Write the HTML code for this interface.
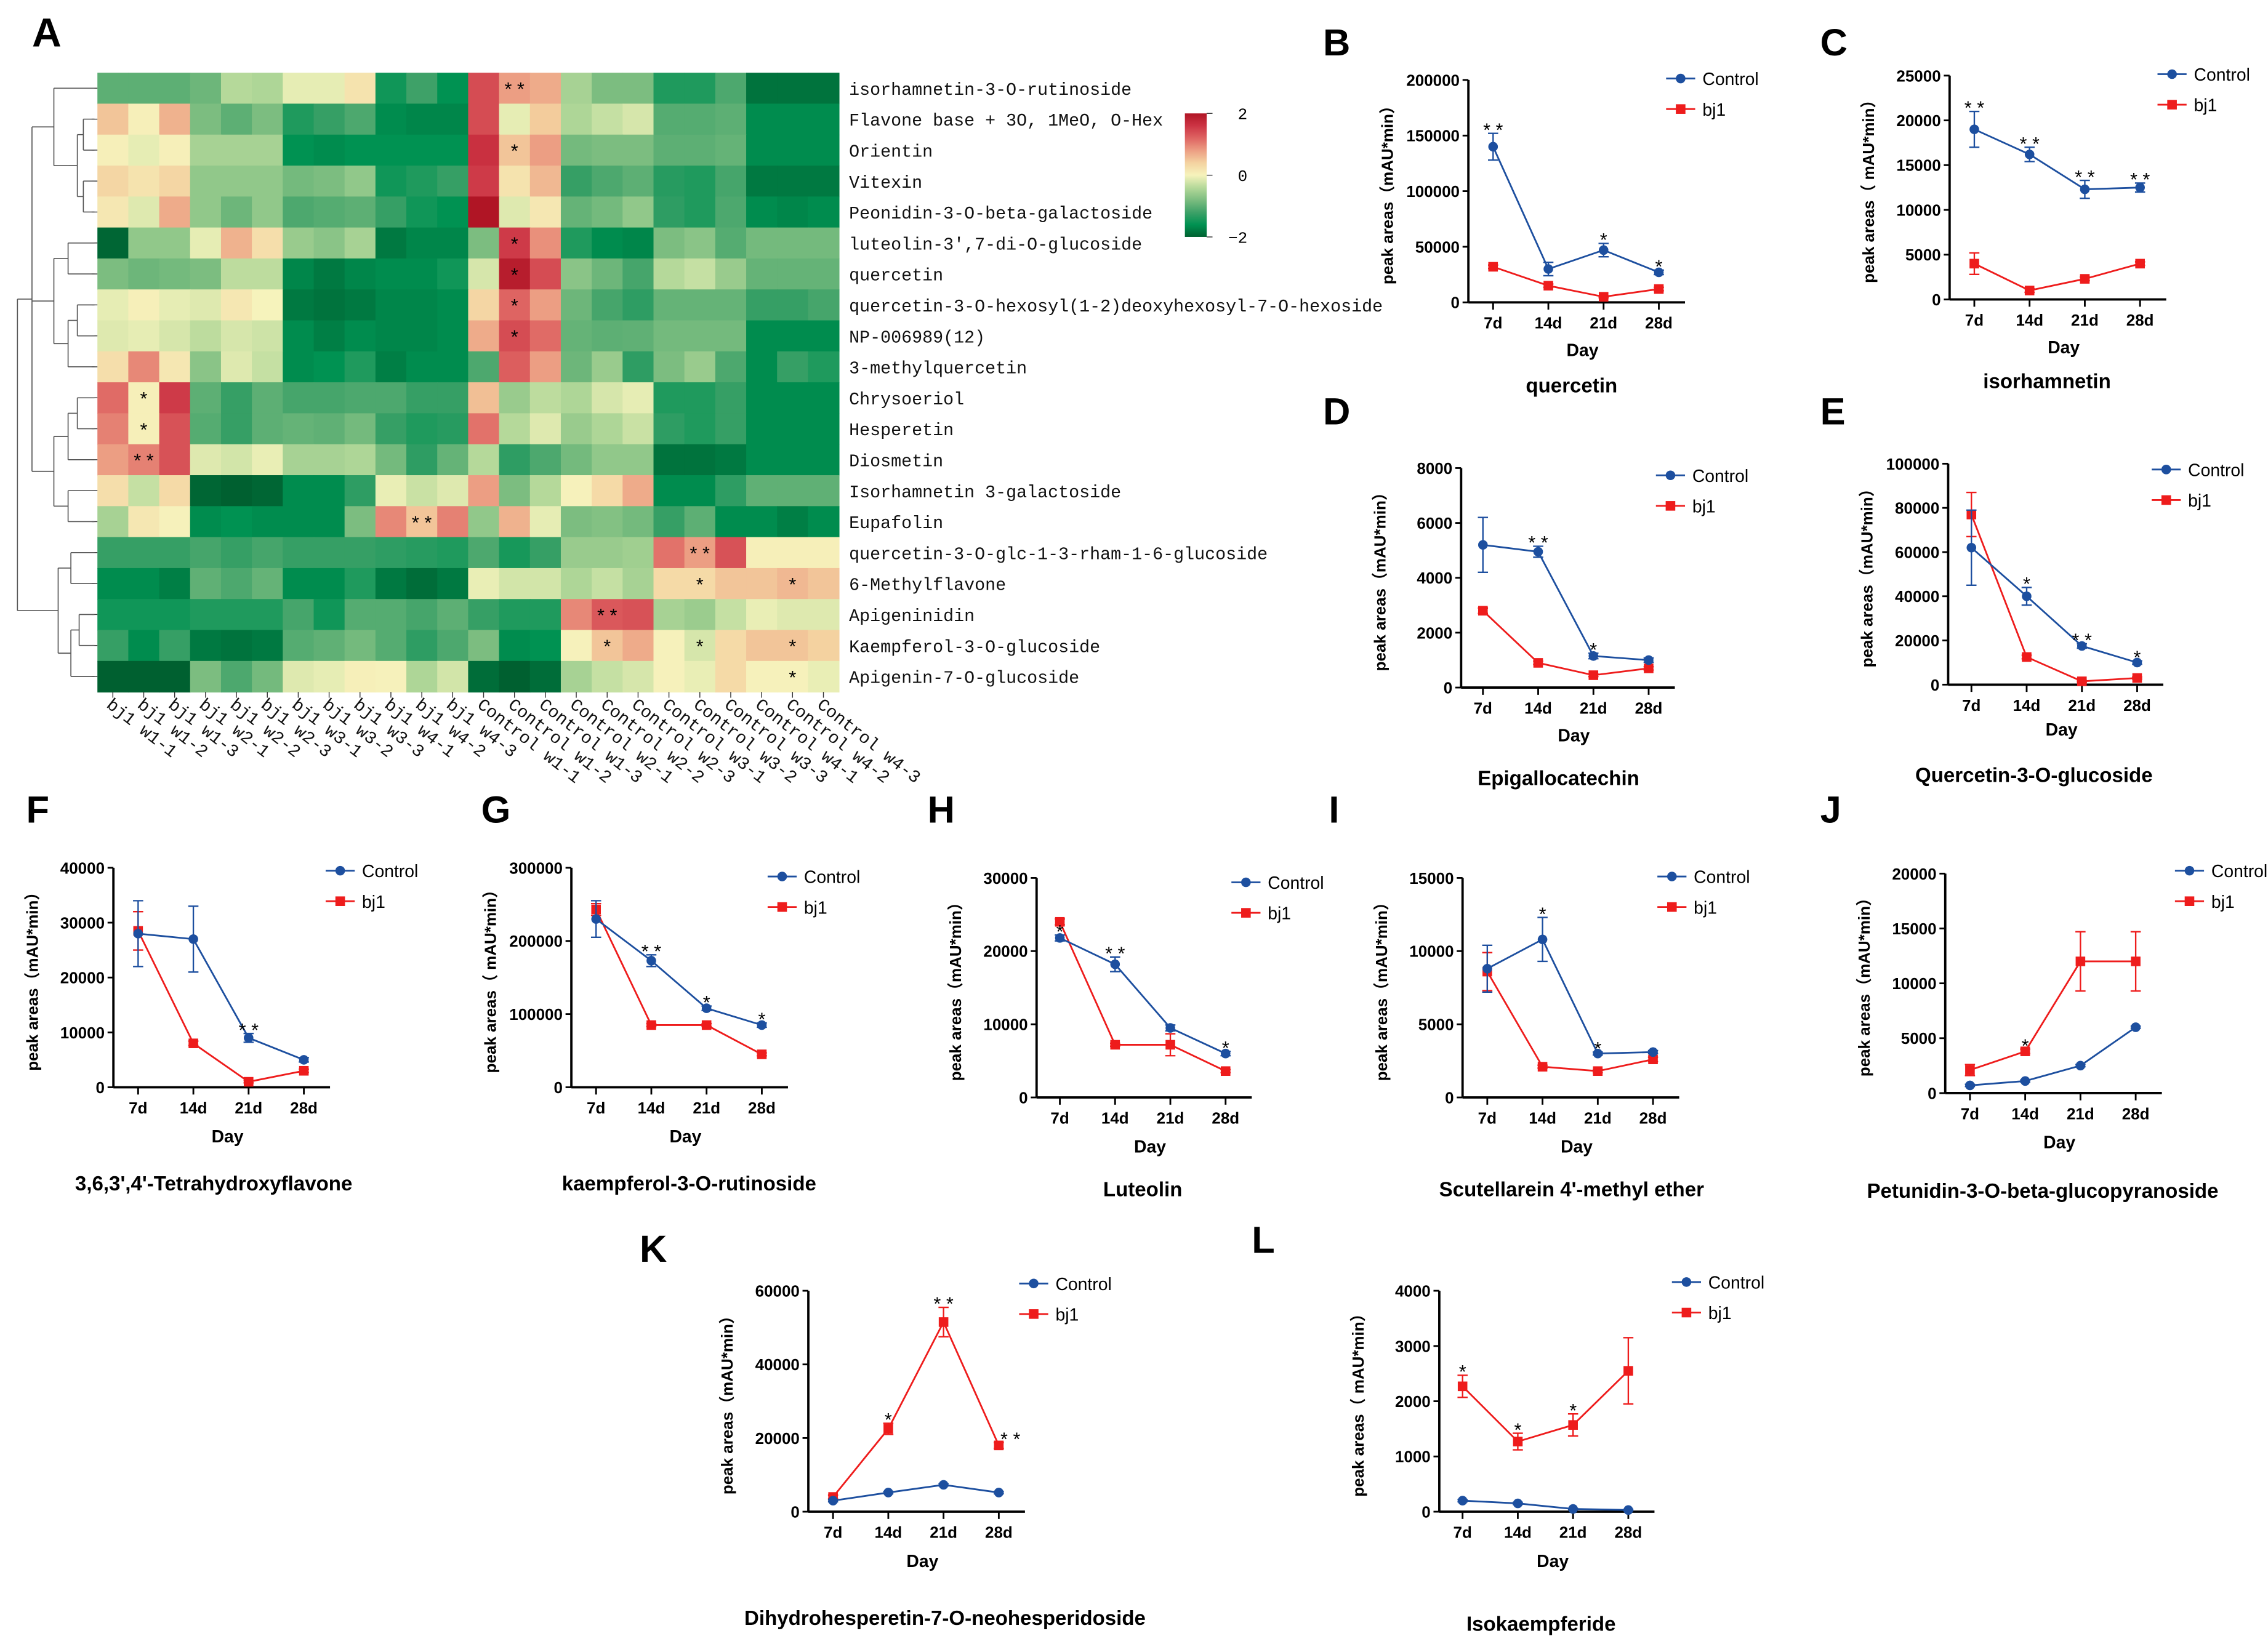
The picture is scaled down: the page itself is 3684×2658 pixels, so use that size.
<!DOCTYPE html>
<html><head><meta charset="utf-8">
<style>
html,body{margin:0;padding:0;background:#fff;}
svg{display:block;}
text{font-family:"Liberation Sans","Noto Sans CJK SC",sans-serif;}
.mono{font-family:"Liberation Mono","DejaVu Sans Mono",monospace;}
</style></head>
<body>
<svg id="fig" xmlns="http://www.w3.org/2000/svg" width="3684" height="2658" viewBox="0 0 1560 1125.5">
<rect x="0" y="0" width="1560" height="1126" fill="#fff"/>
<g id="heat"></g>
<g id="lines"></g>
</svg>
<script>
// ---------- Heatmap data ----------
const heatRows=["isorhamnetin-3-O-rutinoside","Flavone base + 3O, 1MeO, O-Hex","Orientin","Vitexin","Peonidin-3-O-beta-galactoside","luteolin-3',7-di-O-glucoside","quercetin","quercetin-3-O-hexosyl(1-2)deoxyhexosyl-7-O-hexoside","NP-006989(12)","3-methylquercetin","Chrysoeriol","Hesperetin","Diosmetin","Isorhamnetin 3-galactoside","Eupafolin","quercetin-3-O-glc-1-3-rham-1-6-glucoside","6-Methylflavone","Apigeninidin","Kaempferol-3-O-glucoside","Apigenin-7-O-glucoside"];
const heatCols=["bj1 w1-1","bj1 w1-2","bj1 w1-3","bj1 w2-1","bj1 w2-2","bj1 w2-3","bj1 w3-1","bj1 w3-2","bj1 w3-3","bj1 w4-1","bj1 w4-2","bj1 w4-3","Control w1-1","Control w1-2","Control w1-3","Control w2-1","Control w2-2","Control w2-3","Control w3-1","Control w3-2","Control w3-3","Control w4-1","Control w4-2","Control w4-3"];
const heatValues=[
[-1.0,-1.0,-1.0,-0.9,-0.4,-0.45,-0.1,-0.1,0.2,-1.5,-1.2,-1.6,1.4,0.8,0.7,-0.5,-0.8,-0.8,-1.4,-1.4,-1.1,-1.85,-1.85,-1.85],
[0.5,0.05,0.65,-0.8,-1.0,-0.8,-1.4,-1.25,-1.1,-1.65,-1.7,-1.7,1.4,-0.1,0.45,-0.45,-0.3,-0.2,-1.05,-1.05,-1.0,-1.65,-1.65,-1.65],
[0.05,-0.1,0.05,-0.5,-0.5,-0.5,-1.6,-1.65,-1.6,-1.6,-1.6,-1.6,1.65,0.5,0.8,-0.85,-0.8,-0.8,-1.0,-1.0,-0.95,-1.65,-1.65,-1.65],
[0.35,0.2,0.35,-0.65,-0.65,-0.65,-0.85,-0.8,-0.65,-1.5,-1.4,-1.25,1.55,0.2,0.6,-1.25,-1.1,-1.0,-1.35,-1.4,-1.15,-1.8,-1.8,-1.8],
[0.15,-0.15,0.7,-0.65,-0.9,-0.65,-1.1,-1.05,-1.0,-1.25,-1.5,-1.6,2.0,-0.15,0.15,-0.95,-0.85,-0.65,-1.3,-1.4,-1.1,-1.65,-1.7,-1.65],
[-1.95,-0.65,-0.65,-0.1,0.65,0.25,-0.6,-0.7,-0.5,-1.8,-1.7,-1.7,-0.8,1.55,0.9,-1.4,-1.65,-1.7,-0.8,-0.7,-1.05,-0.85,-0.85,-0.85],
[-0.8,-0.9,-0.85,-0.8,-0.35,-0.35,-1.7,-1.8,-1.7,-1.65,-1.65,-1.5,-0.2,1.9,1.4,-0.7,-0.9,-1.15,-0.4,-0.3,-0.6,-0.95,-0.95,-0.95],
[-0.1,0.05,-0.1,-0.15,0.15,0.0,-1.8,-1.85,-1.8,-1.7,-1.7,-1.65,0.35,1.2,0.8,-0.9,-1.15,-1.3,-0.95,-0.95,-0.95,-1.25,-1.25,-1.15],
[-0.15,-0.1,-0.2,-0.35,-0.2,-0.25,-1.65,-1.75,-1.65,-1.7,-1.7,-1.65,0.7,1.4,1.15,-0.95,-1.0,-0.98,-0.85,-0.85,-0.85,-1.65,-1.65,-1.65],
[0.25,0.95,0.15,-0.7,-0.15,-0.3,-1.65,-1.6,-1.4,-1.75,-1.65,-1.65,-1.1,1.25,0.8,-0.9,-0.6,-1.3,-0.8,-0.6,-1.1,-1.65,-1.25,-1.4],
[1.15,0.05,1.55,-1.0,-1.25,-1.0,-1.15,-1.15,-1.1,-1.1,-1.25,-1.25,0.55,-0.6,-0.35,-0.45,-0.2,-0.1,-1.4,-1.4,-1.25,-1.65,-1.65,-1.65],
[1.0,0.05,1.35,-1.05,-1.25,-1.0,-0.95,-0.98,-0.85,-1.25,-1.4,-1.35,1.1,-0.4,-0.15,-0.6,-0.45,-0.28,-1.3,-1.4,-1.25,-1.65,-1.65,-1.65],
[0.8,1.0,1.35,-0.15,-0.22,-0.08,-0.5,-0.5,-0.45,-0.85,-1.3,-0.95,-0.4,-1.3,-1.1,-0.85,-0.65,-0.65,-1.85,-1.85,-1.8,-1.65,-1.65,-1.65],
[0.25,-0.3,0.3,-1.95,-2.0,-1.95,-1.65,-1.65,-1.3,-0.08,-0.28,-0.15,0.8,-0.8,-0.4,0.02,0.3,0.7,-1.65,-1.65,-1.3,-0.98,-0.98,-0.98],
[-0.5,0.15,0.02,-1.65,-1.6,-1.65,-1.65,-1.65,-0.8,0.95,0.5,1.0,-0.65,0.65,-0.1,-0.8,-0.75,-0.85,-1.25,-1.0,-1.65,-1.65,-1.75,-1.65],
[-1.25,-1.25,-1.25,-1.15,-1.25,-1.15,-1.25,-1.25,-1.25,-1.3,-1.35,-1.4,-1.1,-1.45,-1.25,-0.6,-0.6,-0.55,1.1,0.8,1.35,0.05,0.05,0.05],
[-1.65,-1.65,-1.75,-0.98,-1.1,-0.95,-1.65,-1.65,-1.4,-1.8,-1.9,-1.8,-0.08,-0.22,-0.22,-0.45,-0.3,-0.5,0.3,0.3,0.5,0.5,0.6,0.5],
[-1.5,-1.5,-1.5,-1.4,-1.4,-1.4,-1.15,-1.5,-1.05,-1.05,-1.15,-1.0,-1.25,-1.4,-1.4,0.95,1.3,1.35,-0.5,-0.58,-0.3,-0.08,-0.15,-0.15],
[-1.25,-1.65,-1.25,-1.8,-1.85,-1.8,-1.05,-0.98,-0.85,-1.05,-1.3,-1.1,-0.8,-1.65,-1.6,0.02,0.5,0.7,0.02,-0.2,0.3,0.5,0.5,0.4],
[-2.0,-2.0,-2.0,-0.8,-1.1,-0.85,-0.15,-0.1,0.05,0.02,-0.45,-0.22,-1.9,-2.0,-1.9,-0.5,-0.3,-0.2,0.02,-0.08,0.3,0.02,0.02,-0.08]
];
const heatStars=[[0,13,"* *"],[2,13,"*"],[5,13,"*"],[6,13,"*"],[7,13,"*"],[8,13,"*"],[10,1,"*"],[11,1,"*"],[12,1,"* *"],[14,10,"* *"],[15,19,"* *"],[16,19,"*"],[16,22,"*"],[17,16,"* *"],[18,16,"*"],[18,19,"*"],[18,22,"*"],[19,22,"*"]];
const legendTicks=[2,0,-2];

// ---------- Line chart data ----------
const days=["7d","14d","21d","28d"];
const bCtrl=[140000,30000,47000,27000], bCtrlErr=[12000,6000,6000,2000], bBj1=[32000,15000,5000,12000], bBj1Err=[1500,1500,800,1500], bStars=["* *","","*","*"];
const cCtrl=[19000,16200,12300,12500], cCtrlErr=[2000,800,1000,500], cBj1=[4000,1000,2300,4000], cBj1Err=[1200,200,200,200], cStars=["* *","* *","* *","* *"];
const dCtrl=[5200,4950,1150,1000], dCtrlErr=[1000,200,100,80], dBj1=[2800,900,450,700], dBj1Err=[100,60,50,60], dStars=["","* *","*",""];
const eCtrl=[62000,40000,17500,10000], eCtrlErr=[17000,4000,1000,800], eBj1=[77000,12500,1500,3000], eBj1Err=[10000,800,300,500], eStars=["","*","* *","*"];
const fCtrl=[28000,27000,9000,5000], fCtrlErr=[6000,6000,800,400], fBj1=[28500,8000,1000,3000], fBj1Err=[3500,400,200,300], fStars=["","","* *",""];
const gCtrl=[230000,173000,108000,85000], gCtrlErr=[25000,8000,3000,3000], gBj1=[243000,85000,85000,45000], gBj1Err=[8000,2000,2000,2000], gStars=["","* *","*","*"];
const hCtrl=[21800,18200,9500,6000], hCtrlErr=[400,1000,400,300], hBj1=[24000,7200,7200,3600], hBj1Err=[400,200,1500,200], hStars=["*","* *","","*"];
const iCtrl=[8800,10800,3000,3100], iCtrlErr=[1600,1500,100,100], iBj1=[8600,2100,1800,2600], iBj1Err=[1300,100,100,150], iStars=["","*","*",""];
const jCtrl=[700,1100,2500,6000], jCtrlErr=[100,100,100,100], jBj1=[2100,3800,12000,12000], jBj1Err=[500,200,2700,2700], jStars=["","*","",""];
const kCtrl=[3000,5200,7300,5200], kCtrlErr=[300,300,300,300], kBj1=[4000,22500,51500,18000], kBj1Err=[500,1500,4000,800], kStars=["","*","* *","* *"];
const lCtrl=[200,150,50,30], lCtrlErr=[20,20,10,10], lBj1=[2270,1270,1570,2550], lBj1Err=[200,150,200,600], lStars=["*","*","*",""];

const NS="http://www.w3.org/2000/svg";
function mk(parent,tag,attrs,txt){const e=document.createElementNS(NS,tag);for(const k in attrs)e.setAttribute(k,attrs[k]);if(txt!==undefined)e.textContent=txt;parent.appendChild(e);return e;}

// ---------- Heatmap ----------
const H=document.getElementById('heat');
const hx0=67,hy0=50,cw=510/24,ch=426/20;
const stops=[[-2,[0,96,48]],[-1.6,[0,146,82]],[-1.2,[62,161,104]],[-0.8,[124,189,128]],[-0.4,[181,217,154]],[0,[246,243,188]],[0.4,[244,210,160]],[0.8,[236,158,131]],[1.2,[222,100,98]],[1.6,[204,52,68]],[2,[176,21,37]]];
function heatColor(v){v=Math.max(-2,Math.min(2,v));for(let i=0;i<stops.length-1;i++){const a=stops[i],b=stops[i+1];if(v<=b[0]){const t=(v-a[0])/(b[0]-a[0]);const c=a[1].map((x,j)=>Math.round(x+(b[1][j]-x)*t));return `rgb(${c[0]},${c[1]},${c[2]})`;}}return 'rgb(176,21,37)';}
heatValues.forEach((row,r)=>row.forEach((v,c)=>{
  const e=mk(H,'rect',{x:(hx0+c*cw).toFixed(2),y:(hy0+r*ch).toFixed(2),width:(cw+0.4).toFixed(2),height:(ch+0.4).toFixed(2),fill:heatColor(v)});
  
  
}));
heatStars.forEach(s=>{
  const e=mk(H,'text',{x:hx0+(s[1]+0.5)*cw,y:hy0+(s[0]+0.5)*ch+5,'text-anchor':'middle','font-size':13,fill:'#000'},s[2]);
  
  
});
heatRows.forEach((n,r)=>{
  mk(H,'line',{x1:hx0-4,x2:hx0,y1:hy0+(r+0.5)*ch,y2:hy0+(r+0.5)*ch,stroke:'#333','stroke-width':0.6});
  const e=mk(H,'text',{x:584,y:hy0+(r+0.5)*ch+4.5,'font-size':12,class:'mono',fill:'#111'},n);
  
  
});
heatCols.forEach((n,c)=>{
  const x=hx0+(c+0.5)*cw,y=486;
  mk(H,'line',{x1:x,x2:x,y1:476,y2:480,stroke:'#333','stroke-width':0.6});
  const e=mk(H,'text',{x:x-5,y:y,'font-size':12,class:'mono',fill:'#111',transform:`rotate(38 ${x-5} ${y})`},n.replace(' ','  '));
  
  
});
// dendrogram
const tree=[[0,[[[1,2],[3,4]]]],[[5,6],[[7,8],9]],[[[10,11],12],[13,14]]];
const tree2=[[15,16],[[17,18],19]];
const depthX={};
function leafY(i){return hy0+(i+0.5)*ch;}
function draw(node,x){ // returns y
  if(typeof node==='number')return leafY(node);
  const ys=node.map((ch2,i)=>{const childX=typeof ch2==='number'?hx0-2:x+(hx0-2-x)*0.35;const y=draw(ch2,childX);mk(H,'line',{x1:x,x2:childX,y1:y,y2:y,stroke:'#555','stroke-width':0.7});return y;});
  mk(H,'line',{x1:x,x2:x,y1:Math.min(...ys),y2:Math.max(...ys),stroke:'#555','stroke-width':0.7});
  return (Math.min(...ys)+Math.max(...ys))/2;
}
const dg=mk(H,'g',{});


const ya=draw(tree,22),yb=draw(tree2,40);
mk(H,'line',{x1:22,x2:22,y1:ya,y2:ya,stroke:'#555'});
mk(H,'line',{x1:12,x2:22,y1:ya,y2:ya,stroke:'#555','stroke-width':0.7});
mk(H,'line',{x1:12,x2:40,y1:yb,y2:yb,stroke:'#555','stroke-width':0.7});
mk(H,'line',{x1:12,x2:12,y1:ya,y2:yb,stroke:'#555','stroke-width':0.7});
// color legend
const gradId='hg';
const defs=mk(H,'defs',{});const lg=mk(defs,'linearGradient',{id:gradId,x1:0,y1:0,x2:0,y2:1});
for(let i=0;i<=10;i++){mk(lg,'stop',{offset:(i*10)+'%','stop-color':heatColor(2-i*0.4)});}
const cl=mk(H,'rect',{x:815,y:78,width:15,height:85,fill:`url(#${gradId})`});


legendTicks.forEach(t=>{const y=78+(2-t)/4*85;mk(H,'line',{x1:830,x2:834,y1:y,y2:y,stroke:'#333','stroke-width':0.6});mk(H,'text',{x:858,y:y+4,'font-size':11,class:'mono','text-anchor':'end'},t===-2?'−2':String(t));});
const la=mk(H,'text',{x:22,y:32,'font-size':28,'font-weight':'bold'},'A');



// ---------- Line charts ----------
const L=document.getElementById('lines');
const panels=[
 {id:'b',letter:'B',lx:910,ly:38,ax:1010,x0:1027,yTop:55,yBot:208,ymax:200000,step:50000,ctrl:bCtrl,ce:bCtrlErr,bj:bBj1,be:bBj1Err,stars:bStars,sOn:'c',title:'quercetin',tx:1081,ty:270,dayY:245,legX:1146,legY:54,yl:'peak areas（mAU*min）'},
 {id:'c',letter:'C',lx:1252,ly:38,ax:1341,x0:1358,yTop:52,yBot:206,ymax:25000,step:5000,ctrl:cCtrl,ce:cCtrlErr,bj:cBj1,be:cBj1Err,stars:cStars,sOn:'c',title:'isorhamnetin',tx:1408,ty:267,dayY:243,legX:1484,legY:51,yl:'peak areas（ mAU*min）'},
 {id:'d',letter:'D',lx:910,ly:292,ax:1005,x0:1020,yTop:322,yBot:473,ymax:8000,step:2000,ctrl:dCtrl,ce:dCtrlErr,bj:dBj1,be:dBj1Err,stars:dStars,sOn:'c',title:'Epigallocatechin',tx:1072,ty:540,dayY:510,legX:1139,legY:327,yl:'peak areas（mAU*min）'},
 {id:'e',letter:'E',lx:1252,ly:292,ax:1340,x0:1356,yTop:319,yBot:471,ymax:100000,step:20000,ctrl:eCtrl,ce:eCtrlErr,bj:eBj1,be:eBj1Err,stars:eStars,sOn:'c',title:'Quercetin-3-O-glucoside',tx:1399,ty:538,dayY:506,legX:1480,legY:323,yl:'peak areas（mAU*min）'},
 {id:'f',letter:'F',lx:18,ly:566,ax:78,x0:95,yTop:597,yBot:748,ymax:40000,step:10000,ctrl:fCtrl,ce:fCtrlErr,bj:fBj1,be:fBj1Err,stars:fStars,sOn:'c',title:"3,6,3',4'-Tetrahydroxyflavone",tx:147,ty:819,dayY:786,legX:224,legY:599,yl:'peak areas（mAU*min）'},
 {id:'g',letter:'G',lx:331,ly:566,ax:393,x0:410,yTop:597,yBot:748,ymax:300000,step:100000,ctrl:gCtrl,ce:gCtrlErr,bj:gBj1,be:gBj1Err,stars:gStars,sOn:'c',title:'kaempferol-3-O-rutinoside',tx:474,ty:819,dayY:786,legX:528,legY:603,yl:'peak areas（ mAU*min）'},
 {id:'h',letter:'H',lx:638,ly:566,ax:713,x0:729,yTop:604,yBot:755,ymax:30000,step:10000,ctrl:hCtrl,ce:hCtrlErr,bj:hBj1,be:hBj1Err,stars:hStars,sOn:'c',title:'Luteolin',tx:786,ty:823,dayY:793,legX:847,legY:607,yl:'peak areas（mAU*min）'},
 {id:'i',letter:'I',lx:914,ly:566,ax:1006,x0:1023,yTop:604,yBot:755,ymax:15000,step:5000,ctrl:iCtrl,ce:iCtrlErr,bj:iBj1,be:iBj1Err,stars:iStars,sOn:'c',title:"Scutellarein 4'-methyl ether",tx:1081,ty:823,dayY:793,legX:1140,legY:603,yl:'peak areas（mAU*min）'},
 {id:'j',letter:'J',lx:1252,ly:566,ax:1338,x0:1355,yTop:601,yBot:752,ymax:20000,step:5000,ctrl:jCtrl,ce:jCtrlErr,bj:jBj1,be:jBj1Err,stars:jStars,sOn:'b',title:'Petunidin-3-O-beta-glucopyranoside',tx:1405,ty:824,dayY:790,legX:1496,legY:599,yl:'peak areas（mAU*min）'},
 {id:'k',letter:'K',lx:440,ly:868,ax:556,x0:573,yTop:888,yBot:1040,ymax:60000,step:20000,ctrl:kCtrl,ce:kCtrlErr,bj:kBj1,be:kBj1Err,stars:kStars,sOn:'b',title:'Dihydrohesperetin-7-O-neohesperidoside',tx:650,ty:1118,dayY:1078,legX:701,legY:883,yl:'peak areas（mAU*min）'},
 {id:'l',letter:'L',lx:861,ly:862,ax:990,x0:1006,yTop:888,yBot:1040,ymax:4000,step:1000,ctrl:lCtrl,ce:lCtrlErr,bj:lBj1,be:lBj1Err,stars:lStars,sOn:'b',title:'Isokaempferide',tx:1060,ty:1122,dayY:1078,legX:1150,legY:882,yl:'peak areas（ mAU*min）'}
];
const BLUE='#1d4f9f',RED='#ee1c1c';
panels.forEach(p=>{
  const g=mk(L,'g',{});
  
  
  const dx=38;
  const xS=i=>p.x0+i*dx;
  const yS=v=>p.yBot-(v/p.ymax)*(p.yBot-p.yTop);
  const pl=mk(g,'text',{x:p.lx,y:p.ly,'font-size':26,'font-weight':'bold'},p.letter);
  
  
  // axes
  const xEnd=xS(3)+18;
  mk(g,'line',{x1:p.ax,x2:p.ax,y1:p.yTop,y2:p.yBot,stroke:'#000','stroke-width':1.6});
  mk(g,'line',{x1:p.ax,x2:xEnd,y1:p.yBot,y2:p.yBot,stroke:'#000','stroke-width':1.6});
  for(let v=0;v<=p.ymax+1e-9;v+=p.step){
    const y=yS(v);
    mk(g,'line',{x1:p.ax-4,x2:p.ax,y1:y,y2:y,stroke:'#000','stroke-width':1.2});
    const t=mk(g,'text',{x:p.ax-6,y:y+4,'text-anchor':'end','font-size':11,'font-weight':'bold'},String(v));
    
    
  }
  days.forEach((d,i)=>{
    mk(g,'line',{x1:xS(i),x2:xS(i),y1:p.yBot,y2:p.yBot+5,stroke:'#000','stroke-width':1.2});
    const t=mk(g,'text',{x:xS(i),y:p.yBot+18,'text-anchor':'middle','font-size':11,'font-weight':'bold'},d);
    
    
  });
  const xt=mk(g,'text',{x:(p.ax+xEnd)/2+4,y:p.dayY,'text-anchor':'middle','font-size':12,'font-weight':'bold'},'Day');
  
  
  const yc=(p.yTop+p.yBot)/2, yx=p.ax-52;
  const yt=mk(g,'text',{x:yx,y:yc,'text-anchor':'middle','font-size':11,'font-weight':'bold',transform:`rotate(-90 ${yx} ${yc})`},p.yl);
  
  
  const tt=mk(g,'text',{x:p.tx,y:p.ty,'text-anchor':'middle','font-size':14,'font-weight':'bold'},p.title);
  
  
  // series
  function series(vals,errs,color,shape,name){
    const sg=mk(g,'g',{});
    
    
    vals.forEach((v,i)=>{const x=xS(i),y1=yS(v),y2=yS(v+errs[i]),y3=yS(Math.max(0,v-errs[i]));
      mk(sg,'line',{x1:x,x2:x,y1:y2,y2:y3,stroke:color,'stroke-width':1});
      mk(sg,'line',{x1:x-3.5,x2:x+3.5,y1:y2,y2:y2,stroke:color,'stroke-width':1});
      mk(sg,'line',{x1:x-3.5,x2:x+3.5,y1:y3,y2:y3,stroke:color,'stroke-width':1});});
    mk(sg,'polyline',{points:vals.map((v,i)=>xS(i)+','+yS(v)).join(' '),fill:'none',stroke:color,'stroke-width':1.2});
    vals.forEach((v,i)=>{let m;
      if(shape==='c')m=mk(sg,'circle',{cx:xS(i),cy:yS(v),r:3.3,fill:color});
      else m=mk(sg,'rect',{x:xS(i)-3.3,y:yS(v)-3.3,width:6.6,height:6.6,fill:color});
      
      });
  }
  series(p.bj,p.be,RED,'s','bj1');
  series(p.ctrl,p.ce,BLUE,'c','control');
  // stars
  p.stars.forEach((s,i)=>{if(!s)return;
    const vals=p.sOn==='c'?p.ctrl:p.bj, errs=p.sOn==='c'?p.ce:p.be;
    let x=xS(i),y=yS(vals[i]+errs[i])-4;
    if(p.id==='k'&&i===3){x=xS(i)+8;y=yS(vals[i])-6;}
    const st=mk(g,'text',{x:x,y:y+6,'text-anchor':'middle','font-size':13},s);
    
    });
  // legend
  const lgG=mk(g,'g',{});
  
  
  [['Control',BLUE,'c'],['bj1',RED,'s']].forEach((e,k)=>{const y=p.legY+k*21;
    mk(lgG,'line',{x1:p.legX,x2:p.legX+20,y1:y,y2:y,stroke:e[1],'stroke-width':1.2});
    if(e[2]==='c')mk(lgG,'circle',{cx:p.legX+10,cy:y,r:3.3,fill:e[1]});else mk(lgG,'rect',{x:p.legX+6.7,y:y-3.3,width:6.6,height:6.6,fill:e[1]});
    const t=mk(lgG,'text',{x:p.legX+25,y:y+4.5,'font-size':12},e[0]);
    
    });
});
</script>
</body></html>
